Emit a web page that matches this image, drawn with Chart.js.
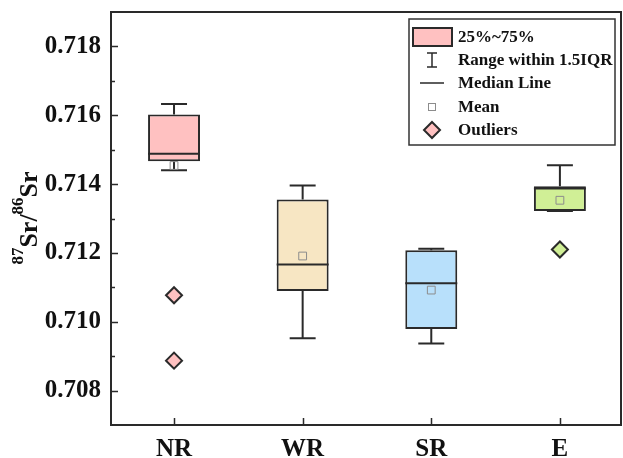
<!DOCTYPE html>
<html>
<head>
<meta charset="utf-8">
<script src="https://cdn.jsdelivr.net/npm/chart.js@4.4.0/dist/chart.umd.min.js"></script>
<style>
  body { margin: 0; background: #fff; }
</style>
</head>
<body>
<canvas id="boxChart" width="623" height="458"></canvas>

<script>
  // box plot values
  const cats = ['NR', 'WR', 'SR', 'E'];
  const whiskerLow  = [0.71440, 0.70952, 0.70937, 0.71322];
  const q1          = [0.71466, 0.71089, 0.70979, 0.71322];
  const medians     = [0.71488, 0.71166, 0.71112, 0.71387];
  const q3          = [0.71602, 0.71355, 0.71208, 0.71394];
  const whiskerHigh = [0.71633, 0.71396, 0.71212, 0.71455];
  const means       = [0.71454, 0.71191, 0.71092, 0.71353];
  const outlierCat  = [0, 0, 3];
  const outlierVal  = [0.71077, 0.70887, 0.71210];

  const fills = ['#FFC1C1', '#F7E6C3', '#B8E0FB', '#D0EF96'];
  const dark = '#2a2a2a';
  const serif = "'Liberation Serif', 'DejaVu Serif', serif";

  const legendItems = ['25%~75%', 'Range within 1.5IQR', 'Median Line', 'Mean', 'Outliers'];

  // whiskers, medians, frame, inward ticks, legend, y title
  const boxPlugin = {
    id: 'boxExtras',
    beforeDatasetsDraw(chart) {
      const ctx = chart.ctx, x = chart.scales.x, y = chart.scales.y;
      const bars = chart.getDatasetMeta(0).data;
      ctx.save();
      ctx.strokeStyle = dark;
      ctx.lineWidth = 2;
      cats.forEach(function(c, i) {
        const px = x.getPixelForValue(i);
        const half = bars[i].width / 4;
        ctx.beginPath();
        ctx.moveTo(px, y.getPixelForValue(whiskerHigh[i]));
        ctx.lineTo(px, y.getPixelForValue(q3[i]));
        ctx.moveTo(px, y.getPixelForValue(whiskerLow[i]));
        ctx.lineTo(px, y.getPixelForValue(q1[i]));
        ctx.moveTo(px - half, y.getPixelForValue(whiskerHigh[i]));
        ctx.lineTo(px + half, y.getPixelForValue(whiskerHigh[i]));
        ctx.moveTo(px - half, y.getPixelForValue(whiskerLow[i]));
        ctx.lineTo(px + half, y.getPixelForValue(whiskerLow[i]));
        ctx.stroke();
      });
      ctx.restore();
    },
    afterDatasetDraw(chart, args) {
      if (args.index !== 0) return;
      const ctx = chart.ctx, y = chart.scales.y;
      const bars = chart.getDatasetMeta(0).data;
      ctx.save();
      ctx.strokeStyle = dark;
      ctx.lineWidth = 2;
      bars.forEach(function(b, i) {
        const py = y.getPixelForValue(medians[i]);
        ctx.beginPath();
        ctx.moveTo(b.x - b.width / 2, py);
        ctx.lineTo(b.x + b.width / 2, py);
        ctx.stroke();
      });
      ctx.restore();
    },
    afterDraw(chart) {
      const ctx = chart.ctx, a = chart.chartArea;
      const x = chart.scales.x, y = chart.scales.y;
      ctx.save();
      ctx.strokeStyle = dark;
      ctx.lineWidth = 2;
      // top and right frame
      ctx.beginPath();
      ctx.moveTo(a.left, a.top);
      ctx.lineTo(a.right, a.top);
      ctx.lineTo(a.right, a.bottom);
      ctx.stroke();
      // inward ticks
      ctx.lineWidth = 1.5;
      ctx.beginPath();
      y.ticks.forEach(function(t) {
        const k = Math.round(t.value * 1000);
        if (k < 708 || k > 718) return;
        const py = Math.round(y.getPixelForValue(t.value)) + 0.5;
        const len = k % 2 === 0 ? 7 : 4;
        ctx.moveTo(a.left, py);
        ctx.lineTo(a.left + len, py);
      });
      cats.forEach(function(c, i) {
        const px = Math.round(x.getPixelForValue(i)) + 0.5;
        ctx.moveTo(px, a.bottom);
        ctx.lineTo(px, a.bottom - 7);
      });
      ctx.stroke();

      // legend box
      const lx = 409, ly = 19, lw = 206, lh = 126;
      ctx.fillStyle = '#fff';
      ctx.fillRect(lx, ly, lw, lh);
      ctx.lineWidth = 1.5;
      ctx.strokeStyle = '#333';
      ctx.strokeRect(lx, ly, lw, lh);
      const sx = 432, rows = [37, 60, 83, 107, 130];
      ctx.lineWidth = 2;
      ctx.strokeStyle = dark;
      ctx.fillStyle = fills[0];
      ctx.fillRect(413, 28, 39, 18);
      ctx.strokeRect(413, 28, 39, 18);
      ctx.beginPath();
      ctx.lineWidth = 1.5;
      ctx.moveTo(sx, rows[1] - 7); ctx.lineTo(sx, rows[1] + 7);
      ctx.moveTo(sx - 5, rows[1] - 7); ctx.lineTo(sx + 5, rows[1] - 7);
      ctx.moveTo(sx - 5, rows[1] + 7); ctx.lineTo(sx + 5, rows[1] + 7);
      ctx.moveTo(sx - 12, rows[2]); ctx.lineTo(sx + 12, rows[2]);
      ctx.stroke();
      ctx.lineWidth = 1;
      ctx.strokeStyle = '#8c8c8c';
      ctx.strokeRect(sx - 3.5, rows[3] - 3.5, 7, 7);
      ctx.beginPath();
      ctx.moveTo(sx, rows[4] - 8); ctx.lineTo(sx + 8, rows[4]);
      ctx.lineTo(sx, rows[4] + 8); ctx.lineTo(sx - 8, rows[4]);
      ctx.closePath();
      ctx.fillStyle = fills[0];
      ctx.fill();
      ctx.lineWidth = 2;
      ctx.strokeStyle = dark;
      ctx.stroke();
      ctx.fillStyle = '#111';
      ctx.font = 'bold 17px ' + serif;
      ctx.textBaseline = 'middle';
      ctx.textAlign = 'left';
      legendItems.forEach(function(t, i) {
        ctx.fillText(t, 458, rows[i] + 1);
      });

      // y axis title with superscripts
      ctx.translate(37, 218);
      ctx.rotate(-Math.PI / 2);
      const big = 'bold 26px ' + serif, small = 'bold 17px ' + serif;
      const parts = [['87', small, -14], ['Sr/', big, 0], ['86', small, -14], ['Sr', big, 0]];
      let total = 0;
      parts.forEach(function(p) { ctx.font = p[1]; total += ctx.measureText(p[0]).width; });
      let u = -total / 2;
      ctx.textBaseline = 'alphabetic';
      parts.forEach(function(p) {
        ctx.font = p[1];
        ctx.fillText(p[0], u, p[2]);
        u += ctx.measureText(p[0]).width;
      });
      ctx.restore();
    }
  };

  const ctx = document.getElementById('boxChart').getContext('2d');

  new Chart(ctx, {
    type: 'bar',
    data: {
      datasets: [
        {
          type: 'bar',
          order: 3,
          data: cats.map(function(c, i) { return { x: i, y: [q1[i], q3[i]] }; }),
          backgroundColor: fills,
          borderColor: dark,
          borderWidth: 2,
          borderSkipped: false,
          barPercentage: 0.404,
          categoryPercentage: 1
        },
        {
          type: 'scatter',
          order: 2,
          data: outlierVal.map(function(v, i) { return { x: outlierCat[i], y: v }; }),
          pointStyle: 'rectRot',
          pointRadius: 8,
          backgroundColor: outlierCat.map(function(c) { return fills[c]; }),
          borderColor: dark,
          borderWidth: 2
        },
        {
          type: 'scatter',
          order: 1,
          data: means.map(function(v, i) { return { x: i, y: v }; }),
          pointStyle: 'rect',
          pointRadius: 5.5,
          backgroundColor: 'rgba(0,0,0,0)',
          borderColor: '#8c8c8c',
          borderWidth: 1
        }
      ]
    },
    options: {
      responsive: false,
      animation: false,
      layout: { autoPadding: false, padding: { top: 12, right: 2, left: 0, bottom: 0 } },
      plugins: { legend: { display: false }, tooltip: { enabled: false } },
      scales: {
        x: {
          type: 'linear',
          offset: false,
          min: -0.49,
          max: 3.475,
          afterBuildTicks: function(scale) {
            scale.ticks = cats.map(function(c, i) { return { value: i }; });
          },
          afterFit: function(scale) {
            scale.height = 33;
            scale.paddingLeft = 0;
            scale.paddingRight = 0;
          },
          grid: { display: false, drawTicks: false },
          border: { display: true, color: dark, width: 2 },
          ticks: {
            padding: 10,
            color: '#111',
            maxRotation: 0,
            font: { family: serif, size: 25, weight: 'bold' },
            callback: function(v) { return cats[v]; }
          }
        },
        y: {
          min: 0.707,
          max: 0.719,
          afterFit: function(scale) {
            scale.width = 111;
            scale.paddingTop = 0;
            scale.paddingBottom = 0;
          },
          grid: { display: false, drawTicks: false },
          border: { display: true, color: dark, width: 2 },
          ticks: {
            stepSize: 0.001,
            maxTicksLimit: 20,
            padding: 10,
            color: '#111',
            font: { family: serif, size: 25, weight: 'bold' },
            callback: function(v) {
              const k = Math.round(v * 1000);
              return (k % 2 === 0 && k >= 708 && k <= 718) ? v.toFixed(3) : '';
            }
          }
        }
      }
    },
    plugins: [boxPlugin]
  });
</script>
</body>
</html>
